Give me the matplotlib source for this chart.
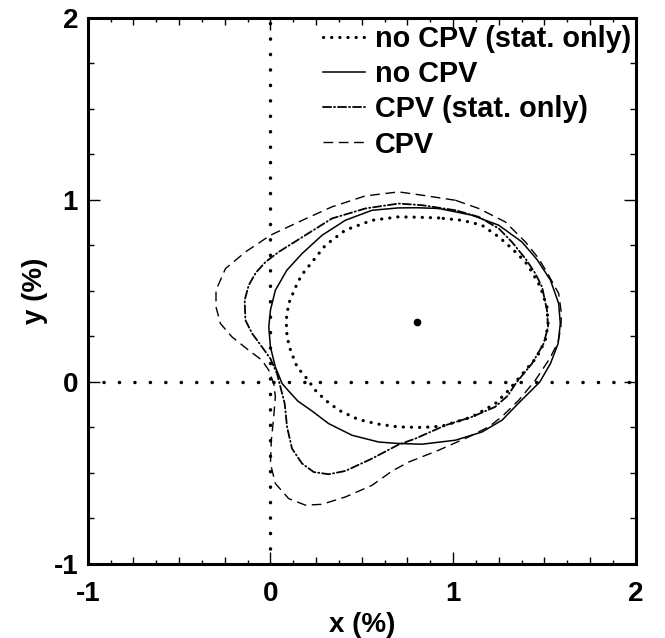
import matplotlib
matplotlib.use("Agg")
import matplotlib.pyplot as plt
from matplotlib.ticker import MultipleLocator

plt.rcParams['font.family'] = ['Liberation Sans', 'DejaVu Sans']
plt.rcParams['font.weight'] = 'bold'
plt.rcParams['axes.unicode_minus'] = False

# Best-fit point
center_x = [0.80]
center_y = [0.33]

# no CPV (stat. only) -- dotted
nocpv_stat_x = [0.921, 0.80, 0.702, 0.556, 0.41, 0.301, 0.228, 0.173, 0.146, 0.10, 0.086, 0.091, 0.11, 0.146, 0.20,
                0.246, 0.301, 0.374, 0.483, 0.593, 0.70, 0.83, 0.939, 1.103, 1.23, 1.30, 1.35, 1.396, 1.459, 1.505,
                1.52, 1.514, 1.478, 1.432, 1.396, 1.322, 1.25, 1.158, 1.049]
nocpv_stat_y = [0.901, 0.905, 0.907, 0.888, 0.834, 0.751, 0.659, 0.59, 0.54, 0.431, 0.339, 0.247, 0.174, 0.082, 0.018,
                -0.046, -0.10, -0.155, -0.207, -0.232, -0.247, -0.25, -0.243, -0.192, -0.12, -0.05, 0.01, 0.064, 0.137,
                0.229, 0.321, 0.412, 0.522, 0.604, 0.659, 0.733, 0.797, 0.861, 0.888]

# no CPV -- solid
nocpv_x = [0.921, 0.80, 0.70, 0.556, 0.41, 0.283, 0.173, 0.09, 0.027, 0.0, -0.009, 0.0, 0.027, 0.064, 0.10, 0.15,
           0.228, 0.319, 0.447, 0.593, 0.70, 0.83, 1.013, 1.158, 1.268, 1.36, 1.475, 1.533, 1.575, 1.587, 1.578,
           1.533, 1.46, 1.377, 1.25, 1.103]
nocpv_y = [0.953, 0.957, 0.956, 0.943, 0.888, 0.806, 0.705, 0.614, 0.504, 0.394, 0.302, 0.192, 0.082, -0.009, -0.05,
           -0.105, -0.16, -0.229, -0.293, -0.33, -0.338, -0.342, -0.32, -0.275, -0.21, -0.115, 0.0, 0.101, 0.211,
           0.321, 0.431, 0.559, 0.672, 0.769, 0.861, 0.916]

# CPV (stat. only) -- dash-dot
cpv_stat_x = [1.013, 0.83, 0.702, 0.52, 0.337, 0.191, 0.045, -0.027, -0.08, -0.119, -0.141, -0.137, -0.10, -0.046,
              0.0, 0.036, 0.064, 0.078, 0.091, 0.118, 0.173, 0.237, 0.319, 0.41, 0.556, 0.70, 0.794, 0.958, 1.103,
              1.23, 1.30, 1.345, 1.432, 1.496, 1.52, 1.514, 1.487, 1.45, 1.40, 1.322, 1.25, 1.14]
cpv_stat_y = [0.943, 0.971, 0.98, 0.953, 0.898, 0.806, 0.714, 0.659, 0.60, 0.531, 0.449, 0.339, 0.266, 0.192,
              0.128, 0.046, -0.064, -0.119, -0.247, -0.366, -0.448, -0.495, -0.507, -0.489, -0.421, -0.345, -0.311,
              -0.238, -0.192, -0.137, -0.075, -0.005, 0.101, 0.211, 0.302, 0.394, 0.522, 0.596, 0.672, 0.769,
              0.843, 0.907]

# CPV -- dashed
cpv_x = [1.013, 0.83, 0.702, 0.52, 0.337, 0.155, 0.0, -0.137, -0.246, -0.298, -0.298, -0.274, -0.21, -0.119,
         -0.046, -0.009, 0.018, 0.027, 0.018, 0.005, 0.0, 0.027, 0.10, 0.192, 0.283, 0.41, 0.556, 0.665, 0.757,
         0.921, 1.085, 1.195, 1.268, 1.36, 1.45, 1.53, 1.575, 1.59, 1.593, 1.578, 1.523, 1.469, 1.396, 1.286, 1.14]
cpv_y = [0.998, 1.026, 1.044, 1.022, 0.962, 0.879, 0.806, 0.714, 0.623, 0.504, 0.412, 0.321, 0.247, 0.174,
         0.119, 0.064, -0.009, -0.08, -0.192, -0.32, -0.448, -0.558, -0.641, -0.677, -0.672, -0.632, -0.568, -0.49,
         -0.44, -0.375, -0.302, -0.247, -0.19, -0.10, 0.009, 0.13, 0.22, 0.30, 0.376, 0.486, 0.586, 0.678, 0.769,
         0.879, 0.953]

labels = ["no CPV (stat. only)", "no CPV", "CPV (stat. only)", "CPV"]


def closed(a):
    return list(a) + [a[0]]


fig = plt.figure(figsize=(6.65, 6.38), dpi=100)
ax = fig.add_axes([0.132, 0.116, 0.824, 0.856])

# reference axes lines x=0, y=0
ax.plot([0, 0], [-1, 2], color='black', lw=2.5, dashes=(0.05, 4.4), dash_capstyle='round')
ax.plot([-1, 2], [0, 0], color='black', lw=2.5, dashes=(0.05, 4.4), dash_capstyle='round')

l1, = ax.plot(closed(nocpv_stat_x), closed(nocpv_stat_y), color='black', lw=2.3,
              dashes=(0.05, 2.5), dash_capstyle='round')
l2, = ax.plot(closed(nocpv_x), closed(nocpv_y), color='black', lw=1.1)
l3, = ax.plot(closed(cpv_stat_x), closed(cpv_stat_y), color='black', lw=1.3,
              dashes=(4.5, 1.6, 0.6, 1.6), dash_capstyle='round')
l4, = ax.plot(closed(cpv_x), closed(cpv_y), color='black', lw=1.0, dashes=(7, 4))

ax.plot(center_x, center_y, 'o', color='black', markersize=4.5)

ax.set_xlim(-1, 2)
ax.set_ylim(-1, 2)
ax.xaxis.set_major_locator(MultipleLocator(1))
ax.yaxis.set_major_locator(MultipleLocator(1))
ax.xaxis.set_minor_locator(MultipleLocator(0.125))
ax.yaxis.set_minor_locator(MultipleLocator(0.25))
ax.tick_params(which='both', direction='in', top=True, right=True, width=1.0)
ax.tick_params(which='major', length=8.6, labelsize=20)
ax.tick_params(axis='x', which='major', pad=12)
ax.tick_params(axis='y', which='major', pad=7)
ax.tick_params(axis='x', which='minor', length=3.0)
ax.tick_params(axis='y', which='minor', length=4.5)
# medium-length ticks at quarter units on the x axis
for loc, tk in zip(ax.xaxis.get_minorticklocs(), ax.xaxis.get_minor_ticks()):
    if abs(loc * 4 - round(loc * 4)) < 1e-6:
        tk.tick1line.set_markersize(5.0)
        tk.tick2line.set_markersize(5.0)
for s in ax.spines.values():
    s.set_linewidth(2.2)
for t in ax.get_xticklabels() + ax.get_yticklabels():
    t.set_fontweight('bold')

ax.set_xlabel("x (%)", fontsize=20, fontweight='bold', labelpad=4)
ax.set_ylabel("y (%)", fontsize=20, fontweight='bold', labelpad=4)

leg = ax.legend([l1, l2, l3, l4], labels, loc='upper right', bbox_to_anchor=(1.0, 0.995), frameon=False,
                prop={'size': 20.8, 'weight': 'bold'}, handlelength=1.45, handletextpad=0.36,
                labelspacing=0.25, borderaxespad=0.05, borderpad=0.1)

fig.savefig("out.png", dpi=100)
